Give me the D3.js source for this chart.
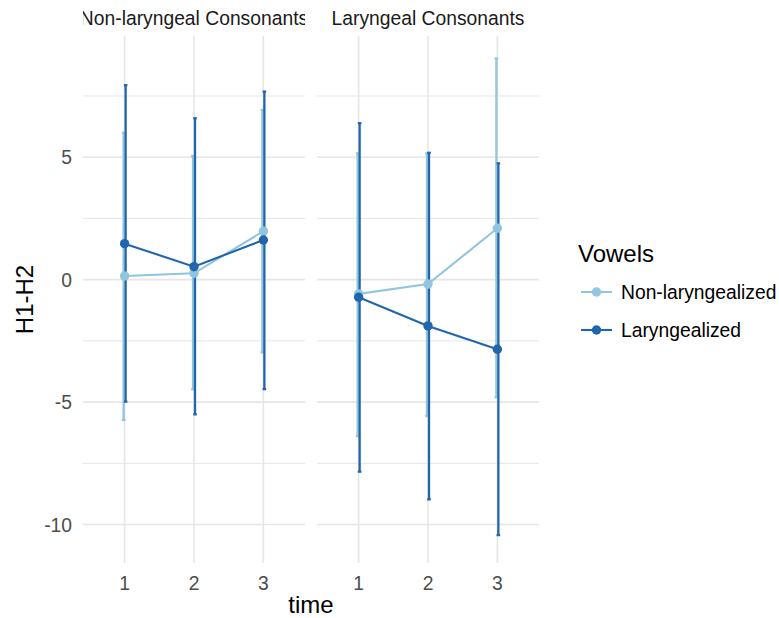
<!DOCTYPE html>
<html>
<head>
<meta charset="utf-8">
<script src="https://cdn.jsdelivr.net/npm/d3@7"></script>
<style>
  body { margin: 0; background: #fff; }
  text { font-family: "Liberation Sans", Arial, Helvetica, sans-serif; }
</style>
</head>
<body>
<svg id="chart" width="779" height="618"></svg>
<script>
// ---- data ----
const panels = ["Non-laryngeal Consonants", "Laryngeal Consonants"];
const times = ["1", "2", "3"];
const groups = ["Non-laryngealized", "Laryngealized"];
const colors = ["#92C5DE", "#2166AC"];

// Non-laryngeal Consonants
const nonLar_nonLzd_mean  = [0.15, 0.26, 1.98];
const nonLar_nonLzd_upper = [6.0, 5.05, 6.93];
const nonLar_nonLzd_lower = [-5.73, -4.48, -2.97];
const nonLar_lzd_mean  = [1.47, 0.53, 1.62];
const nonLar_lzd_upper = [7.94, 6.59, 7.68];
const nonLar_lzd_lower = [-4.98, -5.5, -4.47];

// Laryngeal Consonants
const lar_nonLzd_mean  = [-0.58, -0.18, 2.1];
const lar_nonLzd_upper = [5.16, 5.16, 9.03];
const lar_nonLzd_lower = [-6.39, -5.57, -4.8];
const lar_lzd_mean  = [-0.72, -1.89, -2.84];
const lar_lzd_upper = [6.39, 5.18, 4.75];
const lar_lzd_lower = [-7.84, -8.97, -10.43];

const yTicks = [-10, -5, 0, 5];
const yMinor = [-7.5, -2.5, 2.5, 7.5];

const panelData = [
  [
    {mean: nonLar_nonLzd_mean, upper: nonLar_nonLzd_upper, lower: nonLar_nonLzd_lower},
    {mean: nonLar_lzd_mean, upper: nonLar_lzd_upper, lower: nonLar_lzd_lower}
  ],
  [
    {mean: lar_nonLzd_mean, upper: lar_nonLzd_upper, lower: lar_nonLzd_lower},
    {mean: lar_lzd_mean, upper: lar_lzd_upper, lower: lar_lzd_lower}
  ]
];

// ---- layout ----
const svg = d3.select("#chart");
const plotTop = 36, plotBottom = 563;
const panelX = [83, 317];
const panelW = 222;
const y = d3.scaleLinear().domain([-11.57, 9.95]).range([plotBottom, plotTop]);
const grid = "#E6E6E6";
const smallFont = 19.3, titleFont = 24;
const dodge = [-1, 1];

svg.append("defs").selectAll("clipPath").data(panelX).join("clipPath")
  .attr("id", (d, i) => "clip" + i)
  .append("rect").attr("x", d => d).attr("y", 0).attr("width", panelW).attr("height", plotTop);

panels.forEach((pname, pi) => {
  const x = d3.scalePoint().domain(times).range([panelX[pi], panelX[pi] + panelW]).padding(0.6);
  const g = svg.append("g");

  // minor grid
  g.selectAll(".minor").data(yMinor).join("line")
    .attr("x1", panelX[pi]).attr("x2", panelX[pi] + panelW)
    .attr("y1", d => y(d)).attr("y2", d => y(d))
    .attr("stroke", grid).attr("stroke-width", 1);
  // major grid
  g.selectAll(".major").data(yTicks).join("line")
    .attr("x1", panelX[pi]).attr("x2", panelX[pi] + panelW)
    .attr("y1", d => y(d)).attr("y2", d => y(d))
    .attr("stroke", grid).attr("stroke-width", 1.6);
  g.selectAll(".vmajor").data(times).join("line")
    .attr("x1", d => x(d)).attr("x2", d => x(d))
    .attr("y1", plotTop).attr("y2", plotBottom)
    .attr("stroke", grid).attr("stroke-width", 1.6);

  // strip label
  svg.append("text")
    .attr("x", panelX[pi] + panelW / 2).attr("y", 25)
    .attr("text-anchor", "middle")
    .attr("font-size", smallFont).attr("fill", "#1A1A1A")
    .attr("clip-path", `url(#clip${pi})`)
    .text(pname);

  // x tick labels
  g.selectAll(".xt").data(times).join("text")
    .attr("x", d => x(d)).attr("y", 590)
    .attr("text-anchor", "middle").attr("font-size", smallFont).attr("fill", "#4D4D4D")
    .text(d => d);

  // error bars
  panelData[pi].forEach((s, si) => {
    const eb = g.append("g");
    times.forEach((t, ti) => {
      const cx = x(t) + dodge[si];
      eb.append("line")
        .attr("x1", cx).attr("x2", cx)
        .attr("y1", y(s.upper[ti])).attr("y2", y(s.lower[ti]))
        .attr("stroke", colors[si]).attr("stroke-width", 2.3);
      [s.upper[ti], s.lower[ti]].forEach(v => {
        eb.append("line")
          .attr("x1", cx - 1.8).attr("x2", cx + 1.8)
          .attr("y1", y(v)).attr("y2", y(v))
          .attr("stroke", colors[si]).attr("stroke-width", 2.3);
      });
    });
  });

  // lines and points
  panelData[pi].forEach((s, si) => {
    const line = d3.line().x((d, i) => x(times[i])).y(d => y(d));
    g.append("path").datum(s.mean).attr("d", line)
      .attr("fill", "none").attr("stroke", colors[si]).attr("stroke-width", 2.1);
    g.selectAll(".pt" + si).data(s.mean).join("circle")
      .attr("cx", (d, i) => x(times[i])).attr("cy", d => y(d)).attr("r", 4.7)
      .attr("fill", colors[si]);
  });
});

// y tick labels
svg.selectAll(".yt").data(yTicks).join("text")
  .attr("x", 72).attr("y", d => y(d))
  .attr("dy", "0.36em")
  .attr("text-anchor", "end").attr("font-size", smallFont).attr("fill", "#4D4D4D")
  .text(d => d);

// axis titles
svg.append("text").attr("x", 311).attr("y", 613)
  .attr("text-anchor", "middle").attr("font-size", titleFont).attr("fill", "#000")
  .text("time");
svg.append("text")
  .attr("transform", `translate(33,${(plotTop + plotBottom) / 2}) rotate(-90)`)
  .attr("text-anchor", "middle").attr("font-size", titleFont).attr("fill", "#000")
  .text("H1-H2");

// legend
const lg = svg.append("g");
lg.append("text").attr("x", 578).attr("y", 262)
  .attr("font-size", titleFont).attr("fill", "#000").text("Vowels");
const keyY = [292, 330];
groups.forEach((gname, i) => {
  lg.append("line").attr("x1", 581).attr("x2", 612)
    .attr("y1", keyY[i]).attr("y2", keyY[i])
    .attr("stroke", colors[i]).attr("stroke-width", 2.1);
  lg.append("circle").attr("cx", 596.5).attr("cy", keyY[i]).attr("r", 4.7).attr("fill", colors[i]);
  lg.append("text").attr("x", 621).attr("y", keyY[i]).attr("dy", "0.36em")
    .attr("font-size", smallFont).attr("fill", "#000").text(gname);
});
</script>
</body>
</html>
